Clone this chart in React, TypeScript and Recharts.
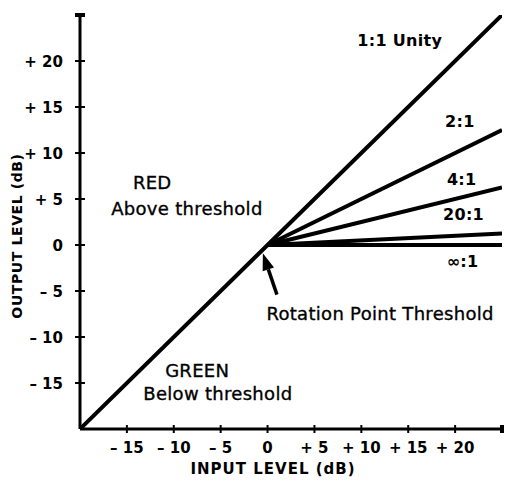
import React from 'react';
import { LineChart, Line, XAxis, YAxis, ReferenceDot, ReferenceLine } from 'recharts';

// Data
const inputLevels = [-20, 0, 25];
const unityOut = [-20, 0, 25];
const ratio2Out = [null, 0, 12.5];
const ratio4Out = [null, 0, 6.25];
const ratio20Out = [null, 0, 1.25];
const ratioInfOut = [null, 0, 0];

const axisTicks = [-20, -15, -10, -5, 0, 5, 10, 15, 20, 25];
const xTickLabels = ['', '– 15', '– 10', '– 5', '0', '+ 5', '+ 10', '+ 15', '+ 20', ''];
const yTickLabels = ['', '– 15', '– 10', '– 5', '0', '+ 5', '+ 10', '+ 15', '+ 20', ''];

const seriesNames = ['unity', 'r2', 'r4', 'r20', 'rinf'];

const data = inputLevels.map((x, i) => ({
  x,
  unity: unityOut[i],
  r2: ratio2Out[i],
  r4: ratio4Out[i],
  r20: ratio20Out[i],
  rinf: ratioInfOut[i],
}));

// Annotations (data coordinates)
const ratioLabels = [
  { text: '1:1 Unity', x: 14.1, y: 22.3 },
  { text: '2:1', x: 20.5, y: 13.4 },
  { text: '4:1', x: 20.7, y: 7.1 },
  { text: '20:1', x: 20.9, y: 3.3 },
  { text: '∞:1', x: 20.8, y: -1.8 },
];
const noteLabels = [
  { text: 'RED', x: -12.3, y: 6.8 },
  { text: 'Above threshold', x: -8.6, y: 4.0 },
  { text: 'GREEN', x: -7.5, y: -13.7 },
  { text: 'Below threshold', x: -5.3, y: -16.1 },
  { text: 'Rotation Point Threshold', x: 12.0, y: -7.5 },
];
const arrowTail = { x: 1.0, y: -5.4 };
const arrowTip = { x: -0.5, y: -0.9 };

const FONT = '"DejaVu Sans", "Liberation Sans", sans-serif';

const XTick = (props: any) => {
  const { x, y, payload } = props;
  const idx = axisTicks.indexOf(payload.value);
  const label = xTickLabels[idx] ?? '';
  return (
    <g>
      {payload.value !== -20 && (
        <line x1={x} x2={x} y1={y - 4} y2={y + 4} stroke="#000" strokeWidth={payload.value === 25 ? 4 : 2} />
      )}
      <text x={x} y={y + 24} textAnchor="middle" fontFamily={FONT} fontWeight="bold" fontSize={15} fill="#000">
        {label}
      </text>
    </g>
  );
};

const YTick = (props: any) => {
  const { x, y, payload } = props;
  const idx = axisTicks.indexOf(payload.value);
  const label = yTickLabels[idx] ?? '';
  return (
    <g>
      {payload.value !== -20 && (
        <line x1={x - 5} x2={x + 5} y1={y} y2={y} stroke="#000" strokeWidth={payload.value === 25 ? 4 : 2} />
      )}
      <text x={x - 17} y={y + 5.5} textAnchor="end" fontFamily={FONT} fontWeight="bold" fontSize={15} fill="#000">
        {label}
      </text>
    </g>
  );
};

const ArrowShape = (props: any) => {
  const { x1, y1, x2, y2 } = props;
  const dx = x2 - x1;
  const dy = y2 - y1;
  const len = Math.sqrt(dx * dx + dy * dy) || 1;
  const ux = dx / len;
  const uy = dy / len;
  const headLen = 17;
  const headW = 6;
  const bx = x2 - ux * headLen;
  const by = y2 - uy * headLen;
  const px = -uy;
  const py = ux;
  return (
    <g>
      <line x1={x1} y1={y1} x2={bx} y2={by} stroke="#000" strokeWidth={3.5} />
      <polygon
        points={`${x2},${y2} ${bx + px * headW},${by + py * headW} ${bx - px * headW},${by - py * headW}`}
        fill="#000"
      />
    </g>
  );
};

const textLabel = (text: string, bold: boolean) => ({
  value: text,
  position: 'center' as const,
  fill: '#000',
  stroke: bold ? 'none' : '#000',
  strokeWidth: bold ? 0 : 0.35,
  fontSize: bold ? 16 : 18,
  fontWeight: bold ? 'bold' : 'normal',
  fontFamily: FONT,
  letterSpacing: bold ? 0.3 : 0.3,
});

export default function App() {
  return (
    <div style={{ position: 'absolute', left: 0, top: 0, width: 509, height: 480, background: '#fff' }}>
      <LineChart width={509} height={480} data={data} margin={{ top: 15, right: 7, bottom: 21, left: 0 }}>
        <XAxis
          dataKey="x"
          type="number"
          domain={[-20, 25]}
          ticks={axisTicks}
          interval={0}
          tickSize={0}
          tickMargin={0}
          tickLine={false}
          tick={<XTick />}
          axisLine={{ stroke: '#000', strokeWidth: 3 }}
          height={30}
          allowDataOverflow
        />
        <YAxis
          type="number"
          domain={[-20, 25]}
          ticks={axisTicks}
          interval={0}
          tickSize={0}
          tickMargin={0}
          tickLine={false}
          tick={<YTick />}
          axisLine={{ stroke: '#000', strokeWidth: 3 }}
          width={80}
          allowDataOverflow
        />
        {seriesNames.map((k) => (
          <Line
            key={k}
            dataKey={k}
            stroke="#000"
            strokeWidth={4}
            dot={false}
            activeDot={false}
            isAnimationActive={false}
            type="linear"
          />
        ))}
        {ratioLabels.map((l) => (
          <ReferenceDot key={l.text} x={l.x} y={l.y} r={0} stroke="none" fill="none" ifOverflow="visible" label={textLabel(l.text, true)} />
        ))}
        {noteLabels.map((l) => (
          <ReferenceDot key={l.text} x={l.x} y={l.y} r={0} stroke="none" fill="none" ifOverflow="visible" label={textLabel(l.text, false)} />
        ))}
        <ReferenceLine segment={[arrowTail, arrowTip]} ifOverflow="visible" shape={ArrowShape} />
      </LineChart>
      <svg width={509} height={480} style={{ position: 'absolute', left: 0, top: 0, pointerEvents: 'none' }}>
        <text x={273} y={474} textAnchor="middle" fontFamily={FONT} fontWeight="bold" fontSize={15} letterSpacing={1} fill="#000">
          INPUT LEVEL (dB)
        </text>
        <text
          x={22}
          y={236}
          textAnchor="middle"
          fontFamily={FONT}
          fontWeight="bold"
          fontSize={14}
          letterSpacing={0.6}
          fill="#000"
          transform="rotate(-90 22 236)"
        >
          OUTPUT LEVEL (dB)
        </text>
      </svg>
    </div>
  );
}
